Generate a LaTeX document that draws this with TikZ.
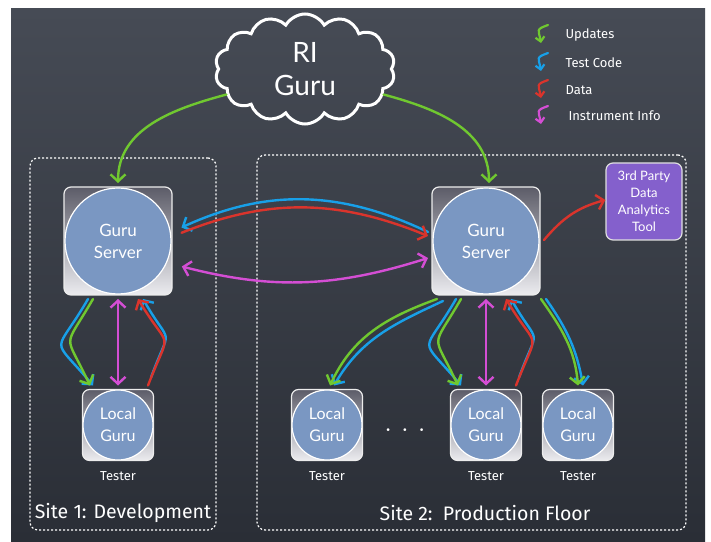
\documentclass[tikz,border=0pt]{standalone}
\usepackage{fontspec}
\setmainfont{Lato}
\newfontfamily\chalkfont{Fira Sans}
\usetikzlibrary{shapes.symbols, arrows.meta, positioning}

\definecolor{board}{RGB}{70,75,85}
\definecolor{boarddark}{RGB}{42,46,54}
\definecolor{gurublue}{RGB}{122,151,194}
\definecolor{boxdark}{RGB}{92,92,104}
\definecolor{boxlight}{RGB}{236,236,240}
\definecolor{chalkgreen}{RGB}{112,200,48}
\definecolor{chalkblue}{RGB}{24,160,232}
\definecolor{chalkred}{RGB}{218,52,44}
\definecolor{chalkpink}{RGB}{212,78,212}
\definecolor{toolpurple}{RGB}{132,96,204}

\begin{document}
\begin{tikzpicture}[x=1pt, y=1pt, >={Straight Barb[length=7pt, width=15pt]}, gurubox/.style={
        rectangle,
        rounded corners=7pt,
        draw=white!85!gray,
        line width=1.2pt,
        top color=boxdark,
        bottom color=boxlight,
        text=white,
        align=center,
        outer sep=4pt
    }, server/.style={
        gurubox,
        minimum size=108pt,
        font=\fontsize{17}{22}\selectfont,
        path picture={\draw[white, line width=1.2pt, fill=gurublue] (path picture bounding box.center) circle (53pt);}
    }, local/.style={
        gurubox,
        minimum size=71pt,
        font=\fontsize{16}{22}\selectfont,
        path picture={\draw[white, line width=1.2pt, fill=gurublue] (path picture bounding box.center) circle (35pt);}
    }, site/.style={
        rectangle,
        rounded corners=8pt,
        draw=white,
        line width=1.2pt,
        dash pattern=on 2pt off 2pt
    }, chalk/.style={
        text=white,
        font=\chalkfont\fontsize{13}{15}\selectfont
    }, sitetext/.style={
        text=white,
        font=\chalkfont\fontsize{19.5}{22}\selectfont
    }, flow/.style={
        line width=2.4pt, line cap=round, ->
    }, both/.style={
        line width=2.4pt, line cap=round, <->
    }, keyarrow/.style={
        line width=2.2pt, line cap=round, -{Straight Barb[length=4.5pt, width=9pt]}
    }]
    \useasboundingbox (0,0) rectangle (711,541);
    \fill[white] (0,0) rectangle (711,541);
    \shade[top color=board, bottom color=boarddark] (11,0) rectangle (705,532);

    \node (site1) [site, minimum width=186pt, minimum height=372pt] at (123,197) {};
    \node (site2) [site, minimum width=429pt, minimum height=375pt] at (471.5,198.5) {};
    \node (site1-label) [sitetext] at (123,28) {Site 1: Development};
    \node (site2-label) [sitetext] at (485,28) {Site 2:\ \ Production Floor};

    \node (ri-guru) [cloud, cloud puffs=14, cloud puff arc=120, aspect=1.7, draw=white, line width=3pt, minimum width=180pt, minimum height=110pt, text=white, align=center, font=\fontsize{28}{33}\selectfont] at (305,472) {RI\\Guru};

    \node (key-upd) [chalk, anchor=west] at (562,506) {Updates};
    \node (key-code) [chalk, anchor=west] at (562,478) {Test Code};
    \node (key-data) [chalk, anchor=west] at (562,451) {Data};
    \node (key-info) [chalk, anchor=west] at (565,425) {Instrument Info};

    \node (dev-srv) [server] at (118,300) {Guru\\Server};
    \node (prod-srv) [server] at (486,300) {Guru\\Server};
    \node (tool) [rectangle, rounded corners=7pt, draw=white!75!gray, line width=1.2pt, fill=toolpurple, text=white, align=center, minimum width=76pt, minimum height=77pt, font=\fontsize{13}{17}\selectfont] at (644,339.5) {3rd Party\\Data\\Analytics\\Tool};

    \node (local1) [local] at (118,116) {Local\\Guru};
    \node (local2) [local] at (327,116) {Local\\Guru};
    \node (local3) [local] at (486,116) {Local\\Guru};
    \node (local4) [local] at (578,116) {Local\\Guru};
    \node (dots) [text=white, font=\fontsize{18}{20}\selectfont] at (405,109) {·\hspace{12pt}·\hspace{12pt}·};
    \node (tester1) [chalk, below=4pt of local1] {Tester};
    \node (tester2) [chalk, below=4pt of local2] {Tester};
    \node (tester3) [chalk, below=4pt of local3] {Tester};
    \node (tester4) [chalk, below=4pt of local4] {Tester};

    \draw [keyarrow, chalkgreen] ([xshift=-14pt, yshift=10pt]key-upd.west) to[out=200, in=100, looseness=1.8] ([xshift=-21pt, yshift=-8pt]key-upd.west);
    \draw [keyarrow, chalkblue] ([xshift=-14pt, yshift=10pt]key-code.west) to[out=200, in=100, looseness=1.8] ([xshift=-21pt, yshift=-8pt]key-code.west);
    \draw [keyarrow, chalkred] ([xshift=-14pt, yshift=10pt]key-data.west) to[out=200, in=100, looseness=1.8] ([xshift=-21pt, yshift=-8pt]key-data.west);
    \draw [keyarrow, chalkpink] ([xshift=-17pt, yshift=10pt]key-info.west) to[out=200, in=100, looseness=1.8] ([xshift=-24pt, yshift=-8pt]key-info.west);

    \draw [flow, chalkgreen] (ri-guru.198) to[out=195, in=90] (dev-srv.north);
    \draw [flow, chalkgreen] (ri-guru.-18) to[out=-15, in=90] ([xshift=3pt]prod-srv.north);

    \draw [flow, chalkblue, shorten >=6pt] ([yshift=9pt]prod-srv.west) to[bend right=25] ([yshift=11pt]dev-srv.east);
    \draw [flow, chalkred, shorten <=6pt] ([yshift=6pt]dev-srv.east) to[bend left=22] ([yshift=5pt]prod-srv.west);
    \draw [both, chalkpink, shorten <=6pt] ([yshift=-24pt]dev-srv.east) to[bend right=16] ([yshift=-17pt]prod-srv.west);

    \draw [flow, chalkblue] ([xshift=-30pt]dev-srv.south) to[out=240, in=130, looseness=2] ([xshift=-25pt]local1.north);
    \draw [flow, chalkgreen] ([xshift=-25pt]dev-srv.south) to[out=240, in=115, looseness=1.8] ([xshift=-28pt]local1.north);
    \draw [both, chalkpink] (dev-srv.south) -- (local1.north);
    \draw [flow, chalkblue] ([xshift=33pt, yshift=8pt]local1.north) to[out=70, in=-60, looseness=1.9] ([xshift=25pt]dev-srv.south);
    \draw [flow, chalkred] ([xshift=30pt]local1.north) to[out=69, in=-59, looseness=1.9] ([xshift=20pt]dev-srv.south);

    \draw [flow, chalkblue] ([xshift=-30pt]prod-srv.south) to[out=240, in=130, looseness=2] ([xshift=-25pt]local3.north);
    \draw [flow, chalkgreen] ([xshift=-25pt]prod-srv.south) to[out=240, in=115, looseness=1.8] ([xshift=-28pt]local3.north);
    \draw [both, chalkpink] (prod-srv.south) -- (local3.north);
    \draw [flow, chalkblue] ([xshift=33pt, yshift=8pt]local3.north) to[out=70, in=-60, looseness=1.9] ([xshift=25pt]prod-srv.south);
    \draw [flow, chalkred] ([xshift=30pt]local3.north) to[out=69, in=-59, looseness=1.9] ([xshift=20pt]prod-srv.south);

    \draw [flow, chalkblue] ([xshift=-43pt, yshift=-2pt]prod-srv.south) to[out=205, in=60] ([xshift=7pt]local2.north);
    \draw [flow, chalkgreen] ([xshift=-49pt]prod-srv.south) to[out=200, in=65] ([xshift=3pt]local2.north);
    \draw [flow, chalkblue] ([xshift=60pt]prod-srv.south) to[out=-55, in=100] ([xshift=5pt]local4.north);
    \draw [flow, chalkgreen] ([xshift=55pt]prod-srv.south) to[out=-55, in=95] (local4.north);

    \draw [flow, chalkred] ([yshift=1pt]prod-srv.east) to[out=50, in=195] ([yshift=1.5pt]tool.west);

\end{tikzpicture}
\end{document}
